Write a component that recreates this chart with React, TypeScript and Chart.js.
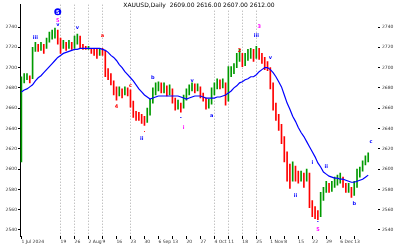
import React, { useEffect, useRef } from "react";
import { Chart, registerables } from "chart.js";

Chart.register(...registerables);

const symbol = "XAUUSD,Daily";
const startOpen = 2607;

const closes = [
  2690, 2690, 2692, 2689, 2716, 2721, 2719, 2723, 2719, 2725,
  2730, 2733, 2737, 2727, 2719, 2723, 2721, 2723, 2719, 2725,
  2730, 2721, 2720, 2719, 2719, 2717, 2716, 2712, 2718, 2714,
  2696, 2692, 2687, 2679, 2675, 2677, 2674, 2679, 2676, 2667,
  2654, 2653, 2652, 2648, 2646, 2656, 2665, 2675, 2681, 2683,
  2679, 2681, 2677, 2679, 2670, 2663, 2665, 2660, 2669, 2675,
  2680, 2681, 2679, 2681, 2673, 2670, 2662, 2665, 2673, 2681,
  2685, 2683, 2685, 2667, 2692, 2696, 2700, 2708, 2712, 2704,
  2708, 2714, 2716, 2712, 2719, 2712, 2708, 2704, 2700, 2685,
  2665, 2654, 2644, 2632, 2615, 2603, 2590, 2600, 2596, 2592,
  2594, 2590, 2596, 2569, 2559, 2555, 2553, 2569, 2577, 2582,
  2580, 2584, 2588, 2590, 2592, 2586, 2580, 2582, 2576, 2582,
  2594, 2598, 2604, 2609, 2612,
];

const highs = [
  2691, 2694, 2694, 2692, 2720, 2725, 2723, 2725, 2723, 2729,
  2735, 2737, 2739, 2733, 2729, 2727, 2725, 2727, 2725, 2731,
  2733, 2731, 2723, 2721, 2721, 2719, 2719, 2718, 2719, 2719,
  2717, 2699, 2694, 2687, 2681, 2681, 2679, 2681, 2680, 2678,
  2665, 2657, 2656, 2654, 2652, 2660, 2669, 2680, 2685, 2686,
  2685, 2685, 2682, 2683, 2679, 2669, 2668, 2665, 2673, 2679,
  2683, 2685, 2684, 2684, 2681, 2675, 2670, 2669, 2680, 2685,
  2689, 2688, 2689, 2685, 2701, 2701, 2704, 2714, 2718, 2714,
  2714, 2718, 2719, 2718, 2721, 2719, 2714, 2710, 2706, 2700,
  2681, 2663, 2652, 2642, 2627, 2617, 2605, 2607, 2603, 2598,
  2598, 2596, 2600, 2588, 2567, 2563, 2559, 2577, 2582, 2588,
  2586, 2588, 2592, 2594, 2596, 2592, 2586, 2586, 2582, 2588,
  2600, 2602, 2608, 2613, 2616,
];

const lows = [
  2607, 2685, 2688, 2685, 2689, 2716, 2716, 2717, 2714, 2719,
  2725, 2728, 2729, 2723, 2714, 2719, 2717, 2719, 2718, 2719,
  2723, 2719, 2718, 2718, 2718, 2714, 2712, 2709, 2712, 2712,
  2691, 2688, 2683, 2673, 2668, 2672, 2670, 2673, 2672, 2661,
  2651, 2648, 2648, 2645, 2643, 2646, 2653, 2665, 2673, 2677,
  2675, 2675, 2672, 2673, 2665, 2658, 2659, 2656, 2660, 2668,
  2673, 2677, 2675, 2677, 2670, 2667, 2659, 2660, 2664, 2673,
  2679, 2679, 2680, 2663, 2667, 2691, 2694, 2700, 2706, 2701,
  2702, 2707, 2709, 2706, 2709, 2708, 2704, 2698, 2697, 2679,
  2658, 2648, 2638, 2625, 2607, 2588, 2581, 2588, 2588, 2586,
  2588, 2582, 2588, 2562, 2553, 2551, 2550, 2555, 2569, 2577,
  2577, 2578, 2582, 2584, 2586, 2582, 2577, 2577, 2572, 2574,
  2586, 2592, 2598, 2604, 2607,
];

const movingAvg = [
  2676, 2678, 2679, 2681, 2683, 2687, 2690, 2692, 2695, 2698,
  2701, 2704, 2707, 2710, 2712, 2714, 2715, 2716, 2717, 2718,
  2718, 2719, 2719, 2719, 2719, 2719, 2719, 2719, 2719, 2718,
  2717, 2715, 2712, 2710, 2707, 2703, 2700, 2696, 2693, 2690,
  2687, 2683, 2679, 2676, 2673, 2671, 2669, 2670, 2671, 2672,
  2672, 2672, 2672, 2672, 2672, 2672, 2672, 2671, 2670, 2669,
  2670, 2671, 2672, 2672, 2672, 2671, 2670, 2670, 2670, 2670,
  2671, 2671, 2672, 2673, 2675, 2677, 2680, 2682, 2685, 2686,
  2688, 2689, 2691, 2691, 2693, 2696, 2698, 2700, 2700, 2698,
  2695, 2691, 2686, 2681, 2673, 2665, 2659, 2652, 2647, 2641,
  2636, 2632, 2627, 2622, 2617, 2612, 2606, 2602, 2597, 2595,
  2593, 2592, 2591, 2591, 2590, 2590, 2589, 2588, 2587, 2587,
  2588, 2589, 2590, 2592, 2594,
];

const yTicks = [2740, 2720, 2700, 2680, 2660, 2640, 2620, 2600, 2580, 2560, 2540];

const xTickIndex = [0, 14, 19, 24, 29, 34, 39, 44, 49, 54, 59, 64, 69, 74, 79, 84, 89, 94, 99, 104, 109, 114, 119];
const xTickLabels = ["1 Jul 2024", "19", "26", "2 Aug", "9", "16", "23", "30", "6 Sep", "13", "20", "27", "4 Oct", "11", "18", "25", "1 Nov", "8", "15", "22", "29", "6 Dec", "13"];
const xGridIndex = [14, 19, 24, 29, 39, 69, 74, 79, 84];

const waveIndex = [13, 13, 13, 5, 20, 29, 47, 61, 34, 39, 44, 43, 57, 58, 68, 78, 85, 84, 89, 125, 104, 109, 98, 119, 106, 106];
const waveValue = [2755, 2746, 2742, 2729, 2739, 2731, 2690, 2687, 2661, 2682, 2638, 2630, 2651, 2641, 2653, 2717, 2740, 2731, 2710, 2627, 2606, 2602, 2574, 2566, 2548, 2540];
const waveText = ["5", "5", "v", "iii", "v", "a", "b", "v", "4", "c", ".", "ii", "-", "i", "a", "2", "3", "iii", "v", "c", "i", "ii", "ii", "b", "-", "5"];
const waveColor = ["circle", "#ff00ff", "#0000ff", "#0000ff", "#0000ff", "#ff0000", "#0000ff", "#0000ff", "#ff0000", "#ff0000", "#ff0000", "#0000ff", "#0000ff", "#ff00ff", "#0000ff", "#ff0000", "#ff00ff", "#0000ff", "#0000ff", "#0000ff", "#0000ff", "#0000ff", "#0000ff", "#0000ff", "#0000ff", "#ff00ff"];

const GREEN = "#009a00";
const RED = "#ff0000";

export default function App() {
  const ref = useRef<HTMLCanvasElement | null>(null);

  useEffect(() => {
    document.body.style.margin = "0";
    const canvas = ref.current;
    if (!canvas) return;

    const opens = closes.map((c, i) => (i === 0 ? startOpen : closes[i - 1]));
    const bars = closes.map((c, i) => ({
      x: i,
      y: [Math.min(lows[i], opens[i], c), Math.max(highs[i], opens[i], c)],
    }));
    const barColors = closes.map((c, i) => (c >= opens[i] ? GREEN : RED));
    const maPts = movingAvg.map((v, i) => ({ x: i, y: v }));

    const last = closes.length - 1;
    const title = `${symbol}  ${opens[last].toFixed(2)} ${highs[last].toFixed(2)} ${lows[last].toFixed(2)} ${closes[last].toFixed(2)}`;

    const overlay = {
      id: "overlay",
      afterDatasetsDraw(chart: any) {
        const { ctx, chartArea } = chart;
        const xs = chart.scales.x;
        const ys = chart.scales.y;
        ctx.save();
        ctx.textAlign = "center";
        ctx.textBaseline = "middle";
        for (let k = 0; k < waveIndex.length; k++) {
          const px = xs.getPixelForValue(waveIndex[k]);
          const py = ys.getPixelForValue(waveValue[k]);
          if (waveColor[k] === "circle") {
            ctx.fillStyle = "#0000ff";
            ctx.beginPath();
            ctx.arc(px, py, 3.5, 0, Math.PI * 2);
            ctx.fill();
            ctx.fillStyle = "#ffffff";
            ctx.font = 'bold 5px "DejaVu Sans"';
            ctx.fillText(waveText[k], px, py + 0.5);
          } else {
            ctx.fillStyle = waveColor[k];
            ctx.font = 'bold 5px "DejaVu Sans"';
            ctx.fillText(waveText[k], px, py);
          }
        }
        ctx.font = '6px "DejaVu Sans"';
        const w = ctx.measureText(title).width;
        const cx = (chartArea.left + chartArea.right) / 2;
        ctx.fillStyle = "#ffffff";
        ctx.fillRect(cx - w / 2 - 1, 1, w + 2, 8);
        ctx.fillStyle = "#000000";
        ctx.fillText(title, cx, 5);
        ctx.restore();
      },
    };

    const chart = new Chart(canvas, {
      type: "bar",
      data: {
        datasets: [
          {
            type: "line",
            data: maPts,
            borderColor: "#0000ff",
            borderWidth: 1.2,
            pointRadius: 0,
            fill: false,
            tension: 0,
            order: 0,
          } as any,
          {
            type: "bar",
            data: bars as any,
            backgroundColor: barColors,
            borderWidth: 0,
            barThickness: 1,
            order: 1,
          },
        ],
      },
      options: {
        responsive: false,
        animation: false,
        events: [],
        layout: { padding: 0 },
        plugins: {
          legend: { display: false },
          tooltip: { enabled: false },
          title: { display: false },
        },
        scales: {
          x: {
            type: "linear",
            min: -0.5,
            max: 127.5,
            offset: false,
            afterBuildTicks: (s: any) => {
              s.ticks = xTickIndex.map((v) => ({ value: v }));
            },
            afterFit: (s: any) => {
              s.height = 9;
            },
            border: { display: false, dash: [1, 2] },
            grid: {
              offset: false,
              drawOnChartArea: true,
              drawTicks: true,
              tickLength: 3,
              tickColor: "#000000",
              color: (ctx: any) =>
                ctx.tick && xGridIndex.includes(ctx.tick.value) ? "#a8a8a8" : "rgba(0,0,0,0)",
            },
            ticks: {
              autoSkip: false,
              maxRotation: 0,
              align: "start",
              padding: 0,
              color: "#333",
              font: { size: 4.5, family: "DejaVu Sans" },
              callback: (v: any) => {
                const k = xTickIndex.indexOf(Number(v));
                return k >= 0 ? xTickLabels[k] : "";
              },
            },
          } as any,
          y: {
            position: "left",
            min: 2534,
            max: 2762,
            afterBuildTicks: (s: any) => {
              s.ticks = yTicks.map((v) => ({ value: v }));
            },
            afterFit: (s: any) => {
              s.width = 20;
            },
            border: { display: true, color: "#000000", width: 1 },
            grid: { drawOnChartArea: false, drawTicks: true, tickLength: 2, color: "#000000" },
            ticks: {
              padding: 1,
              color: "#333",
              font: { size: 4.5, family: "DejaVu Sans" },
              callback: (v: any) => String(v),
            },
          } as any,
          y2: {
            position: "right",
            min: 2534,
            max: 2762,
            afterBuildTicks: (s: any) => {
              s.ticks = yTicks.map((v) => ({ value: v }));
            },
            afterFit: (s: any) => {
              s.width = 22;
            },
            border: { display: false },
            grid: { drawOnChartArea: false, drawTicks: true, tickLength: 2, color: "#000000" },
            ticks: {
              padding: 2,
              color: "#333",
              font: { size: 4.5, family: "DejaVu Sans" },
              callback: (v: any) => String(v),
            },
          } as any,
        },
      },
      plugins: [overlay],
    });

    return () => chart.destroy();
  }, []);

  return (
    <div style={{ width: 400, height: 245, position: "relative" }}>
      <canvas ref={ref} width={400} height={245} style={{ display: "block" }} />
    </div>
  );
}
